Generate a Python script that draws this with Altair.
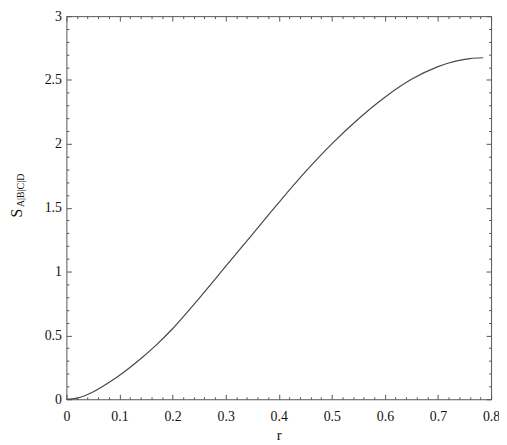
import altair as alt
import pandas as pd

# curve
r_vals = [0.0, 0.02, 0.05, 0.08, 0.11, 0.14, 0.17, 0.2, 0.25, 0.3, 0.35, 0.4,
          0.45, 0.5, 0.55, 0.6, 0.65, 0.7, 0.72, 0.74, 0.76, 0.785]
s_vals = [0.0, 0.009, 0.057, 0.131, 0.218, 0.317, 0.428, 0.552, 0.79, 1.04, 1.29, 1.54,
          1.78, 2.00, 2.195, 2.365, 2.505, 2.605, 2.633, 2.654, 2.668, 2.674]

x_major = [0, 0.1, 0.2, 0.3, 0.4, 0.5, 0.6, 0.7, 0.8]
x_minor = [0.02, 0.04, 0.06, 0.08, 0.12, 0.14, 0.16, 0.18, 0.22, 0.24, 0.26, 0.28,
           0.32, 0.34, 0.36, 0.38, 0.42, 0.44, 0.46, 0.48, 0.52, 0.54, 0.56, 0.58,
           0.62, 0.64, 0.66, 0.68, 0.72, 0.74, 0.76, 0.78]
y_major = [0, 0.5, 1, 1.5, 2, 2.5, 3]
y_minor = [0.1, 0.2, 0.3, 0.4, 0.6, 0.7, 0.8, 0.9, 1.1, 1.2, 1.3, 1.4, 1.6, 1.7,
           1.8, 1.9, 2.1, 2.2, 2.3, 2.4, 2.6, 2.7, 2.8, 2.9]

x_title = "r"
y_title_main = "S"
y_title_sub = "A|B|C|D"

W, H = 429, 387
FONT = "Liberation Serif"
AX = "#555555"

df = pd.DataFrame({"r": r_vals, "S": s_vals})
xs = alt.Scale(domain=[0, 0.8], nice=False, zero=False)
ys = alt.Scale(domain=[0, 3], nice=False, zero=False)

base = alt.Chart(df)

main = base.mark_line(color="#484848", strokeWidth=1.2, interpolate="monotone").encode(
    x=alt.X("r:Q", scale=xs, axis=alt.Axis(
        orient="bottom", values=x_major, ticks=False, tickSize=0, domain=False, grid=False,
        labelFlush=False, labelPadding=10, labelFontSize=14, labelFont=FONT,
        labelColor="#111", title=x_title, titleFont=FONT, titleFontSize=15,
        titleFontWeight="normal", titleColor="#111", titlePadding=5,
        labelExpr="datum.value == 0 ? '0' : format(datum.value, '.1f')")),
    y=alt.Y("S:Q", scale=ys, axis=alt.Axis(
        orient="left", values=y_major, ticks=False, tickSize=0, domain=False, grid=False,
        labelPadding=5, labelFontSize=14, labelFont=FONT, labelColor="#111",
        labelBaseline="middle", labelFlush=False, title=None,
        labelExpr="datum.value == 0 ? '0' : (datum.value % 1 == 0 ? format(datum.value, 'd') : format(datum.value, '.1f'))")),
)


def tick_layer(xorient, yorient, xvals, yvals, size):
    return base.mark_line(strokeOpacity=0).encode(
        x=alt.X("r:Q", scale=xs, axis=alt.Axis(
            orient=xorient, offset=-H, values=xvals, tickSize=size, tickColor=AX,
            tickWidth=1, labels=False, domain=False, title=None, grid=False)),
        y=alt.Y("S:Q", scale=ys, axis=alt.Axis(
            orient=yorient, offset=-W, values=yvals, tickSize=size, tickColor=AX,
            tickWidth=1, labels=False, domain=False, title=None, grid=False)),
    )


t1 = tick_layer("top", "right", x_major, y_major, 5)
t2 = tick_layer("top", "right", x_minor, y_minor, 2.5)
t3 = tick_layer("bottom", "left", x_major, y_major, 5)
t4 = tick_layer("bottom", "left", x_minor, y_minor, 2.5)

ttl_main = alt.Chart(pd.DataFrame({"t": [y_title_main]})).mark_text(
    angle=270, font=FONT, fontSize=16, color="#111", align="center", baseline="middle"
).encode(x=alt.value(-50), y=alt.value(199), text="t:N")
ttl_sub = alt.Chart(pd.DataFrame({"t": [y_title_sub]})).mark_text(
    angle=270, font=FONT, fontSize=10, color="#111", align="center", baseline="middle"
).encode(x=alt.value(-46), y=alt.value(176), text="t:N")

chart = alt.layer(main, t1, t2, t3, t4, ttl_main, ttl_sub).resolve_axis(
    x="independent", y="independent"
).properties(
    width=W, height=H,
    autosize=alt.AutoSizeParams(type="none"),
    padding={"left": 59, "top": 6, "right": 8, "bottom": 44},
    background="white",
).configure_view(stroke=AX, strokeWidth=1)

chart.save("out.html", embed_options={"renderer": "svg", "actions": False})
